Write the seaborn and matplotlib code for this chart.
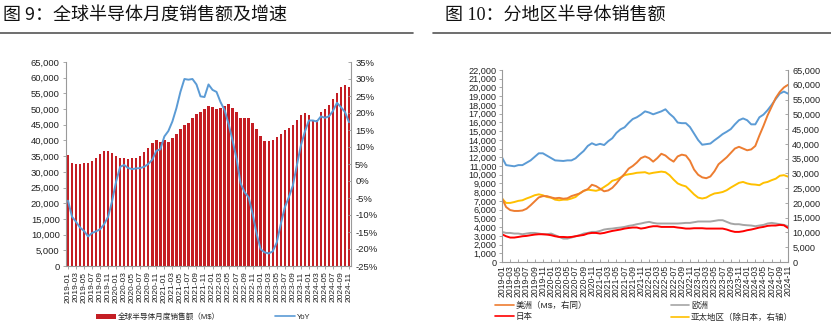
import matplotlib
matplotlib.use("Agg")
import matplotlib.pyplot as plt
import seaborn as sns
import numpy as np
import pandas as pd
from matplotlib.lines import Line2D
from matplotlib.patches import Patch
from matplotlib.ticker import FuncFormatter, MultipleLocator

# ---- data -------------------------------------------------------------
months = [p.strftime("%Y-%m") for p in pd.period_range("2019-01", "2024-11", freq="M")]

# global monthly semiconductor sales, M$
global_sales = [
    35400, 32800, 32600, 32400, 32800, 32800, 33600, 34400, 35600, 36800, 36800, 36000,
    35200, 34400, 34300, 34200, 34400, 34400, 35100, 36400, 37600, 39300, 40200, 39600,
    40000, 39600, 40900, 41900, 43700, 44900, 45600, 47100, 48400, 49000, 49900, 51000,
    50600, 50000, 50500, 51000, 51700, 50200, 49000, 47200, 47000, 47000, 45700, 43500,
    41300, 39700, 39900, 40100, 41200, 42200, 43300, 44100, 45000, 46600, 48000, 48600,
    48000, 46600, 46600, 49000, 49900, 51400, 53200, 55200, 57000, 57700, 57000,
]

# year-over-year growth, %
yoy_pct = [
    -5.8, -10.5, -12.0, -13.7, -14.7, -16.3, -15.3, -14.8, -14.2, -12.7, -10.5, -5.8,
    -0.1, 4.2, 4.7, 3.8, 3.5, 3.7, 3.8, 4.2, 5.0, 6.3, 8.9, 9.3,
    13.1, 14.7, 17.5, 21.4, 26.2, 30.0, 29.8, 30.0, 28.4, 24.9, 24.7, 28.4,
    26.8, 26.2, 23.2, 20.9, 16.8, 11.9, 6.5, -0.7, -3.3, -4.8, -9.7, -15.6,
    -20.1, -21.0, -21.3, -20.7, -18.1, -12.7, -7.8, -4.8, -1.4, 4.5, 10.4, 14.5,
    17.8, 17.8, 17.5, 19.0, 18.6, 19.0, 20.6, 23.0, 21.7, 20.3, 17.3,
]

# regional sales, M$
americas = [
    7300, 6300, 5950, 5850, 5850, 5900, 6100, 6500, 6950, 7400, 7550, 7550,
    7400, 7300, 7350, 7250, 7300, 7550, 7700, 7850, 8150, 8350, 8850, 8700,
    8400, 8100, 8200, 8500, 9000, 9600, 10100, 10700, 11000, 11400, 11900, 12100,
    11900, 11500, 11900, 12400, 12200, 11800, 11500, 12100, 12300, 12200, 11600, 10600,
    10000, 9700, 9600, 9800, 10400, 11200, 11600, 12000, 12500, 13000, 13200, 13000,
    12800, 12900, 13300, 14500, 15600, 16800, 17800, 18800, 19500, 20000, 20300,
]
europe = [
    3450, 3330, 3330, 3260, 3260, 3180, 3260, 3330, 3330, 3260, 3180, 3180,
    3260, 3070, 2870, 2680, 2680, 2800, 2950, 3070, 3260, 3330, 3450, 3450,
    3560, 3720, 3790, 3830, 3900, 3950, 4020, 4140, 4210, 4330, 4410, 4520,
    4600, 4480, 4410, 4410, 4410, 4410, 4410, 4410, 4440, 4480, 4480, 4560,
    4640, 4640, 4640, 4640, 4710, 4790, 4790, 4600, 4410, 4330, 4330, 4250,
    4210, 4180, 4100, 4180, 4250, 4410, 4480, 4410, 4330, 4250, 4100,
]
japan = [
    3180, 2950, 2800, 2800, 2870, 2950, 2990, 3070, 3140, 3180, 3180, 3140,
    3070, 2950, 2870, 2870, 2840, 2870, 2950, 3030, 3100, 3260, 3330, 3330,
    3260, 3330, 3450, 3560, 3640, 3720, 3830, 3900, 3950, 3950, 3830, 3900,
    4020, 4100, 4100, 4020, 4020, 4020, 4020, 3950, 3900, 3830, 3830, 3870,
    3870, 3870, 3830, 3830, 3830, 3830, 3830, 3720, 3560, 3450, 3450, 3520,
    3640, 3720, 3830, 3950, 4020, 4140, 4180, 4180, 4250, 4210, 3900,
]
apac_ex_japan = [
    21500, 20000, 20000, 20300, 20700, 20900, 21500, 22000, 22600, 22900, 22600, 22000,
    21800, 21100, 20900, 21100, 21100, 21500, 22000, 23200, 24100, 24500, 24300, 24100,
    24500, 25400, 26300, 27500, 27900, 28600, 29400, 29700, 29900, 30200, 30300, 30400,
    29900, 30200, 30400, 30600, 30400, 29400, 27900, 26600, 26000, 25600, 24300, 22900,
    21800, 21500, 21800, 22600, 23200, 23400, 23700, 24300, 25200, 26000, 26800, 27100,
    26600, 26300, 26200, 26000, 26800, 27100, 27700, 28200, 29200, 29400, 28900,
]

# ---- style ------------------------------------------------------------
BAR_RED = "#C41E24"
BLUE = "#5B9BD5"
ORANGE = "#ED7D31"
GRAY = "#A5A5A5"
RED = "#FF0000"
YELLOW = "#FFC000"
SPINE = "#9A9A9A"
TXT = "#222222"

sns.set_theme(style="ticks")
plt.rcParams["font.family"] = ["Liberation Sans", "Noto Sans CJK SC"]
plt.rcParams["axes.unicode_minus"] = False

W, H = 831, 328
fig = plt.figure(figsize=(W / 100, H / 100), dpi=100)


def px_axes(x0, y0, x1, y1):
    return fig.add_axes([x0 / W, 1 - y1 / H, (x1 - x0) / W, (y1 - y0) / H])


def style_axis(ax, side):
    for s in ax.spines.values():
        s.set_visible(False)
        s.set_color(SPINE)
        s.set_linewidth(0.8)
    ax.spines[side].set_visible(True)
    ax.set_xlabel("")
    ax.set_ylabel("")
    ax.set_facecolor("none")


thousands = FuncFormatter(lambda v, _: f"{v:,.0f}")
percent = FuncFormatter(lambda v, _: f"{v:.0f}%")
pos = np.arange(len(months))

# ---- left panel: global sales and YoY --------------------------------
df_global = pd.DataFrame({"pos": pos, "sales": global_sales, "yoy": yoy_pct})

ax1 = px_axes(66, 62, 351, 266)
sns.barplot(data=df_global, x="pos", y="sales", color=BAR_RED, saturation=1,
            width=0.6, edgecolor="none", linewidth=0, ax=ax1)
ax1b = ax1.twinx()
sns.lineplot(data=df_global, x="pos", y="yoy", color=BLUE, linewidth=1.4, ax=ax1b)

style_axis(ax1, "left")
ax1.spines["bottom"].set_visible(True)
style_axis(ax1b, "right")
ax1.set_xlim(-0.5, len(months) - 0.5)
ax1.set_ylim(0, 65000)
ax1.yaxis.set_major_locator(MultipleLocator(5000))
ax1.yaxis.set_major_formatter(thousands)
ax1b.set_ylim(-25, 35)
ax1b.yaxis.set_major_locator(MultipleLocator(5))
ax1b.yaxis.set_major_formatter(percent)
ax1.set_xticks(pos[::2])
ax1.set_xticklabels(months[::2], rotation=90)
ax1.tick_params(axis="x", direction="out", length=2.5, width=0.6, color=SPINE,
                labelsize=6.0, labelcolor=TXT, pad=1.5)
ax1.tick_params(axis="y", direction="out", length=2.5, width=0.6, color=SPINE,
                labelsize=6.8, labelcolor=TXT, pad=2)
ax1b.tick_params(axis="y", direction="in", length=2.5, width=0.6, color=SPINE,
                 labelsize=6.8, labelcolor=TXT, pad=3)

fig.legend(
    handles=[Patch(facecolor=BAR_RED, edgecolor="none"),
             Line2D([], [], color=BLUE, linewidth=1.2)],
    labels=["全球半导体月度销售额（M$）", "YoY"],
    ncol=2, loc="center left", bbox_to_anchor=(96 / W, 1 - 317 / H),
    frameon=False, fontsize=5.5, handlelength=2.6, handleheight=0.7,
    handletextpad=0.2, columnspacing=7.3, borderpad=0, borderaxespad=0,
)

# ---- right panel: sales by region -------------------------------------
df_region = pd.DataFrame({"pos": pos, "americas": americas, "europe": europe,
                          "japan": japan, "apac": apac_ex_japan,
                          "total": global_sales})

ax2 = px_axes(502, 70, 788, 262)
ax2b = ax2.twinx()
lw = 1.4
sns.lineplot(data=df_region, x="pos", y="total", color=BLUE, linewidth=lw, ax=ax2b)
sns.lineplot(data=df_region, x="pos", y="apac", color=YELLOW, linewidth=lw, ax=ax2b)
sns.lineplot(data=df_region, x="pos", y="europe", color=GRAY, linewidth=lw, ax=ax2)
sns.lineplot(data=df_region, x="pos", y="japan", color=RED, linewidth=lw, ax=ax2)
sns.lineplot(data=df_region, x="pos", y="americas", color=ORANGE, linewidth=lw, ax=ax2)
ax2b.set_zorder(ax2.get_zorder() - 1)
ax2.patch.set_visible(False)

style_axis(ax2, "left")
ax2.spines["bottom"].set_visible(True)
style_axis(ax2b, "right")
ax2.set_xlim(0, len(months) - 1)
ax2.set_ylim(0, 22000)
ax2.yaxis.set_major_locator(MultipleLocator(1000))
ax2.yaxis.set_major_formatter(thousands)
ax2b.set_ylim(0, 65000)
ax2b.yaxis.set_major_locator(MultipleLocator(5000))
ax2b.yaxis.set_major_formatter(thousands)
ax2.set_xticks(pos[::2])
ax2.set_xticklabels(months[::2], rotation=90)
ax2.tick_params(axis="x", direction="in", length=2.5, width=0.6, color=SPINE,
                labelsize=6.2, labelcolor=TXT, pad=2)
ax2.tick_params(axis="y", direction="out", length=2.5, width=0.6, color=SPINE,
                labelsize=6.6, labelcolor=TXT, pad=1.5)
ax2b.tick_params(axis="y", direction="in", length=2.5, width=0.6, color=SPINE,
                 labelsize=6.6, labelcolor=TXT, pad=3)

fig.legend(
    handles=[Line2D([], [], color=ORANGE, linewidth=1.2),
             Line2D([], [], color=RED, linewidth=1.2),
             Line2D([], [], color=GRAY, linewidth=1.2),
             Line2D([], [], color=YELLOW, linewidth=1.2)],
    labels=["美洲（M$，右同）", "日本", "欧洲", "亚太地区（除日本，右轴）"],
    ncol=2, loc="upper left", bbox_to_anchor=(495 / W, 1 - 302 / H),
    frameon=False, fontsize=6.1, handlelength=2.2, handletextpad=0.2,
    columnspacing=9.9, labelspacing=0.35, borderpad=0, borderaxespad=0,
)

# ---- titles -------------------------------------------------------------
fig.text(3 / W, 1 - 15 / H, "图 9：全球半导体月度销售额及增速", fontsize=13,
         ha="left", va="center", color="#111111", family=["Noto Sans CJK SC"])
fig.text(445 / W, 1 - 15 / H, "图 10：分地区半导体销售额", fontsize=13,
         ha="left", va="center", color="#111111",
         family=["Liberation Serif", "Noto Sans CJK SC"])
for x0, x1 in [(0, 413), (433, 831)]:
    fig.add_artist(Line2D([x0 / W, x1 / W], [1 - 33 / H, 1 - 33 / H],
                          color="#555555", linewidth=1.2,
                          transform=fig.transFigure))

fig.savefig("out.png", dpi=100)
